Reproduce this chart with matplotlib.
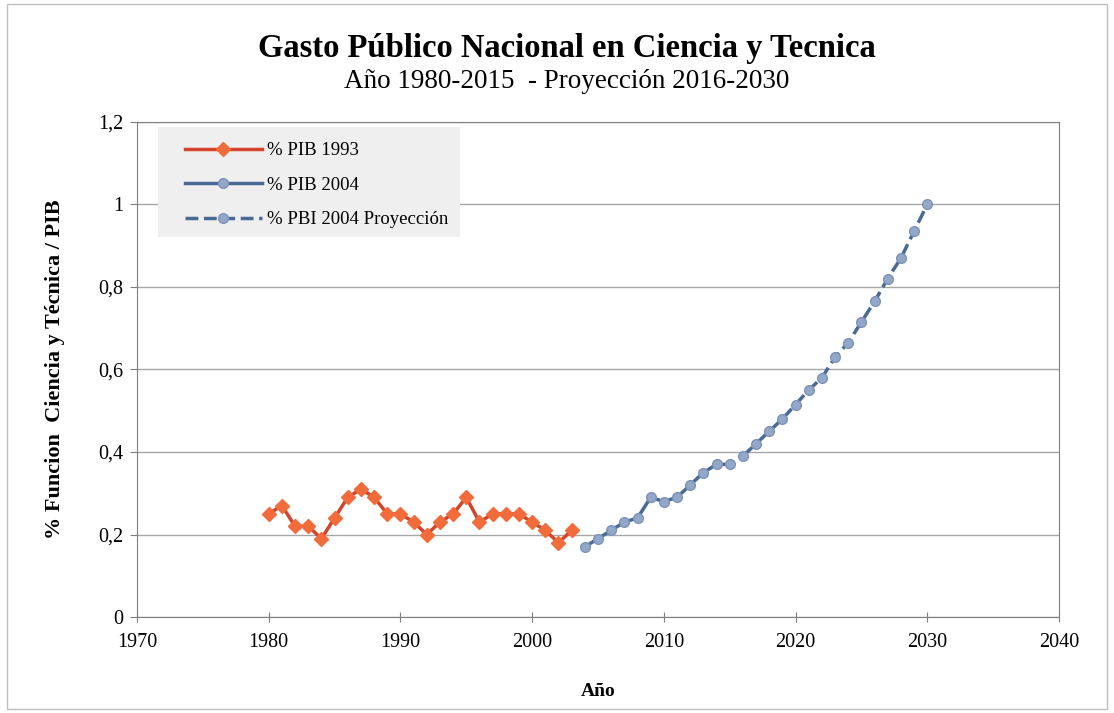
import matplotlib
matplotlib.use("Agg")
import matplotlib.pyplot as plt
from matplotlib.patches import Rectangle
from matplotlib.ticker import FuncFormatter

plt.rcParams['font.family'] = ['Liberation Serif', 'DejaVu Serif']

years_1993 = list(range(1980, 2004))
pib_1993 = [0.25, 0.27, 0.22, 0.22, 0.19, 0.24, 0.29, 0.31, 0.29, 0.25, 0.25, 0.23,
            0.20, 0.23, 0.25, 0.29, 0.23, 0.25, 0.25, 0.25, 0.23, 0.21, 0.18, 0.21]

years_2004 = list(range(2004, 2016))
pib_2004 = [0.17, 0.19, 0.21, 0.23, 0.24, 0.29, 0.28, 0.29, 0.32, 0.35, 0.37, 0.37]

years_proj = list(range(2016, 2031))
pib_proj = [0.39, 0.42, 0.45, 0.48, 0.515, 0.55, 0.58, 0.63, 0.665, 0.715, 0.765,
            0.82, 0.87, 0.935, 1.0]

fig = plt.figure(figsize=(11.14, 7.13), dpi=100)
ax = fig.add_axes([0.123, 0.1346, 0.8276, 0.6944])

ax.plot(years_1993, pib_1993, color='#D4432A', lw=2.5, marker='D', ms=7,
        mfc='#F26B3A', mec='#F26B3A', label='% PIB 1993', zorder=3)
ax.plot(years_2004, pib_2004, color='#4A6A96', lw=2.5, marker='o', ms=7,
        mfc='#93A7C9', mec='#7E93B8', label='% PIB 2004', zorder=3)
ax.plot(years_proj, pib_proj, color='#4A6A96', lw=2.5, ls='--', marker='o', ms=7,
        mfc='#93A7C9', mec='#7E93B8', label='% PBI 2004 Proyección', zorder=3)

ax.set_xlim(1970, 2040)
ax.set_ylim(0, 1.2)
ax.set_xticks(range(1970, 2041, 10))
ax.set_yticks([0, 0.2, 0.4, 0.6, 0.8, 1.0, 1.2])
ax.yaxis.set_major_formatter(FuncFormatter(lambda v, p: ('%g' % round(v, 1)).replace('.', ',')))
ax.grid(axis='y', color='#A6A6A6', lw=1)
ax.set_axisbelow(True)
for s in ax.spines.values():
    s.set_color('#7F7F7F')
ax.tick_params(axis='x', direction='inout', length=7, color='#7F7F7F', labelsize=14.5, pad=8)
ax.tick_params(axis='y', direction='out', length=5, color='#7F7F7F', labelsize=14.5, pad=5)

ax.set_xlabel('Año', fontsize=14, fontweight='bold', labelpad=22)
ax.set_ylabel('% Funcion  Ciencia y Técnica / PIB', fontsize=16, fontweight='bold', labelpad=24)

# legend background box
ax.add_patch(Rectangle((0.0228, 0.768), 0.3275, 0.222, transform=ax.transAxes,
                       facecolor='#EFEFEF', edgecolor='none', zorder=4))
leg = ax.legend(loc='upper left', bbox_to_anchor=(0.052, 0.959), fontsize=13.5,
                frameon=False, handlelength=4.1, handletextpad=0.3,
                labelspacing=0.93, borderpad=0, borderaxespad=0)
leg.set_zorder(5)

fig.text(0.509, 0.932, 'Gasto Público Nacional en Ciencia y Tecnica', ha='center',
         va='center', fontsize=23.5, fontweight='bold')
fig.text(0.509, 0.885, 'Año 1980-2015  - Proyección 2016-2030', ha='center',
         va='center', fontsize=19.5)

fig.patches.append(Rectangle((0.006, 0.006), 0.988, 0.988, transform=fig.transFigure,
                             fill=False, edgecolor='#BFBFBF', lw=1))

fig.savefig('out.png', dpi=100)
